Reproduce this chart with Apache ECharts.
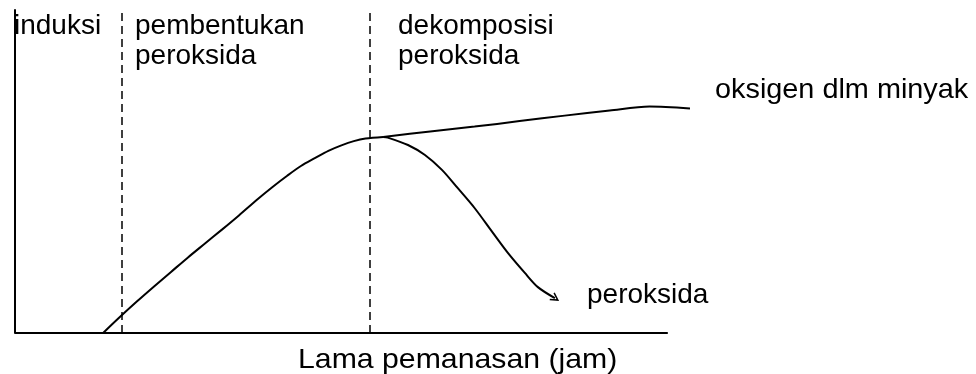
<!DOCTYPE html>
<html>
<head>
<meta charset="utf-8">
<script src="https://cdn.jsdelivr.net/npm/echarts@6/dist/echarts.min.js"></script>
<style>
html,body{margin:0;padding:0;background:#fff;}
#c{width:976px;height:374px;}
</style>
</head>
<body>
<div id="c"></div>
<script>
// Curve data (x: heating time, arbitrary units 0-100; y: level, arbitrary 0-100)
var riseCurve = [[13.5,0],[16.1,5.0],[18.7,9.8],[21.3,14.4],[23.9,18.9],[26.5,23.4],[29.1,27.7],[31.7,32.0],[34.3,36.4],[37.2,41.5],[39.5,45.3],[41.7,48.7],[43.8,51.7],[46.0,54.2],[48.0,56.4],[50.0,58.1],[51.9,59.4],[53.7,60.2],[56.4,60.7]];
var peroxideCurve = [[56.4,60.7],[57.1,60.5],[60.2,58.2],[62.8,55.1],[65.4,50.5],[67.8,44.9],[70.4,38.7],[73.1,31.3],[75.5,24.8],[78.1,18.6],[80.1,14.2],[82.7,10.8]];
var oxygenCurve = [[56.4,60.7],[63.6,62.4],[70.4,63.9],[77.3,65.6],[84.2,67.3],[91.1,68.9],[97.2,70.1],[103.4,69.5]];
var phaseBoundaries = [16.4, 54.4];
var xAxisEnd = 100;   // end of drawn time axis
var xExtent = 103.4;  // curves run slightly past the drawn axis
var axisName = 'Lama pemanasan (jam)';
var phaseLabels = ['induksi', 'pembentukan', 'peroksida', 'dekomposisi', 'peroksida'];
var curveLabels = ['oksigen dlm minyak', 'peroksida'];

var FONT = '28px "Liberation Sans", Arial, sans-serif';
function txt(s, x, baseline, sx) {
  return { type: 'text', x: x, y: baseline - 21, scaleX: sx || 1, style: { text: s, font: FONT, fill: '#000' } };
}

// peroxide curve ends with a small open arrowhead
var peroxideData = peroxideCurve.map(function (p, i) {
  if (i === peroxideCurve.length - 1) {
    return {
      value: p, symbol: 'path://M0,0 L6,10 L12,0', symbolSize: [8, 7], symbolRotate: 57,
      symbolKeepAspect: false,
      itemStyle: { color: 'none', borderColor: '#000', borderWidth: 1.5 }
    };
  }
  return { value: p, symbol: 'none' };
});

var chart = echarts.init(document.getElementById('c'), null, { renderer: 'canvas' });
var lineStyle = { color: '#000', width: 2 };
chart.setOption({
  animation: false,
  grid: { left: 15, right: 286, top: 10, bottom: 41, containLabel: false },
  xAxis: {
    type: 'value', min: 0, max: xExtent,
    axisLine: { show: false },
    axisTick: { show: false }, axisLabel: { show: false }, splitLine: { show: false }
  },
  yAxis: {
    type: 'value', min: 0, max: 100,
    axisLine: { show: true, lineStyle: { color: '#000', width: 2 } },
    axisTick: { show: false }, axisLabel: { show: false }, splitLine: { show: false }
  },
  series: [
    {
      type: 'line', data: riseCurve, smooth: 0.3, showSymbol: false,
      lineStyle: lineStyle, clip: false, silent: true,
      markLine: {
        silent: true, symbol: 'none', label: { show: false },
        lineStyle: { color: '#000', width: 1.5, type: [8, 5] },
        data: phaseBoundaries.map(function (v) { return { xAxis: v }; }).concat([
          [{ coord: [0, 0], lineStyle: { type: 'solid', width: 2 } }, { coord: [xAxisEnd, 0] }]
        ])
      }
    },
    { type: 'line', data: peroxideData, smooth: 0.3, showSymbol: true, showAllSymbol: true, lineStyle: lineStyle, clip: false, silent: true },
    { type: 'line', data: oxygenCurve, smooth: 0.3, showSymbol: false, lineStyle: lineStyle, clip: false, silent: true }
  ],
  graphic: [
    txt(phaseLabels[0], 14, 33),
    txt(phaseLabels[1], 135, 33),
    txt(phaseLabels[2], 135, 63),
    txt(phaseLabels[3], 398, 33),
    txt(phaseLabels[4], 398, 63),
    txt(curveLabels[0], 715, 97, 1.03),
    txt(curveLabels[1], 587, 302),
    txt(axisName, 298, 367, 1.08)
  ]
});
</script>
</body>
</html>
